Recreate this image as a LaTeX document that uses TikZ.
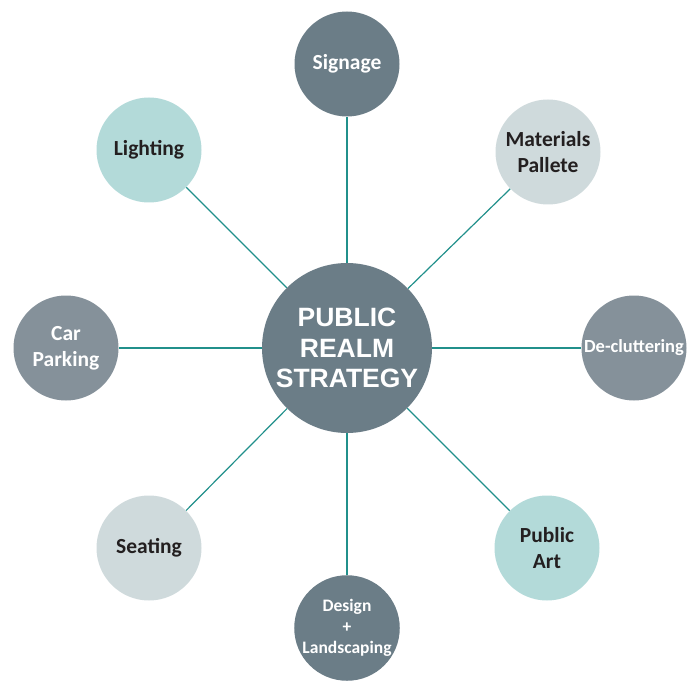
\documentclass[tikz,border=0pt]{standalone}
\usepackage{fontspec}
\setmainfont{Carlito}
\newfontfamily\arialfont{Liberation Sans}
\definecolor{slate}{HTML}{6B7D87}
\definecolor{midgray}{HTML}{85919A}
\definecolor{lteal}{HTML}{B3DAD9}
\definecolor{lgray}{HTML}{CFDADC}
\definecolor{linecol}{HTML}{21908B}
\definecolor{darktext}{HTML}{231F20}
\begin{document}
\begin{tikzpicture}[x=1pt,y=-1pt,
  sat/.style={circle,minimum size=105pt,inner sep=0pt,align=center,
    font=\fontsize{21.5}{26}\selectfont\bfseries},
  darksat/.style={sat,fill=slate,text=white},
  graysat/.style={sat,fill=midgray,text=white},
  tealsat/.style={sat,fill=lteal,text=darktext},
  lgsat/.style={sat,fill=lgray,text=darktext},
  hub/.style={circle,minimum size=170pt,inner sep=0pt,align=center,fill=slate,text=white,
    font=\arialfont\fontsize{26.5}{30.5}\selectfont\bfseries},
  spoke/.style={draw=linecol,line width=1.2pt}]
\useasboundingbox (0,0) rectangle (689,682);
\node[hub] (c) at (347,348) {PUBLIC\\REALM\\STRATEGY};
\node[darksat] (sig) at (347,64) {Signage};
\node[lgsat] (mat) at (548,152) {Materials\\Pallete};
\node[graysat,font=\fontsize{18.5}{21}\selectfont\bfseries] (dec) at (634,348) {De-cluttering};
\node[tealsat] (art) at (547,548) {Public\\Art};
\node[darksat,font=\fontsize{17.5}{21}\selectfont\bfseries] (des) at (347,628) {Design\\+\\Landscaping};
\node[lgsat] (sea) at (149,548) {Seating};
\node[graysat] (car) at (66,348) {Car\\Parking};
\node[tealsat] (lig) at (149,150) {Lighting};
\foreach \s in {sig,mat,dec,art,des,sea,car,lig}
  \draw[spoke] (c) -- (\s);
\end{tikzpicture}
\end{document}
